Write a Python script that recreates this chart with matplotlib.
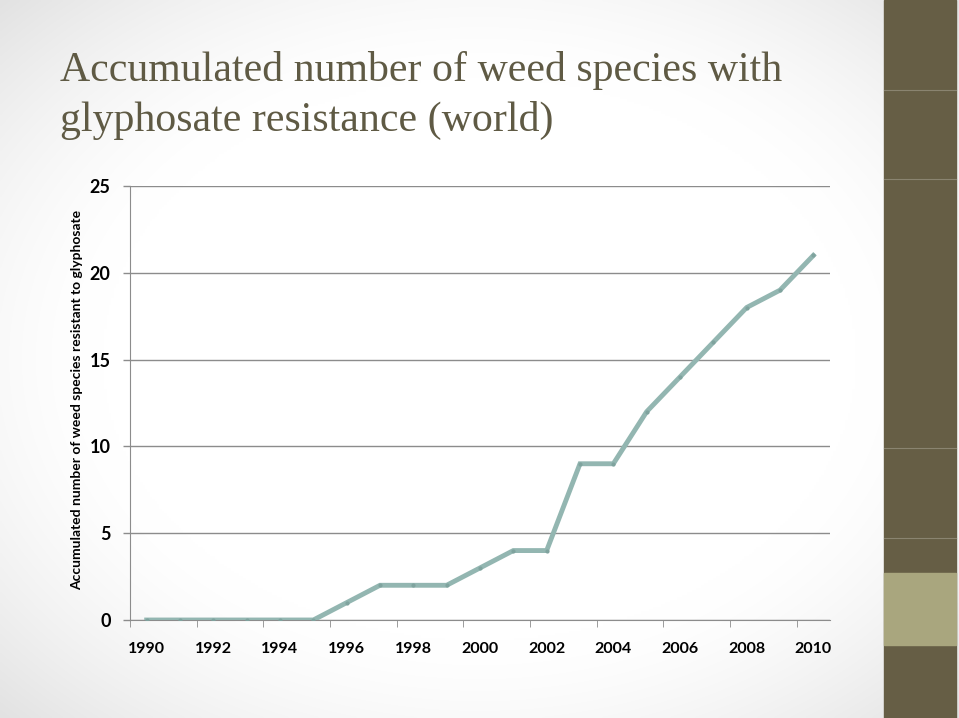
import numpy as np
import matplotlib
matplotlib.use("Agg")
import matplotlib.pyplot as plt
from matplotlib.patches import Rectangle

years = list(range(1990, 2011))
counts = [0, 0, 0, 0, 0, 0, 1, 2, 2, 2, 3, 4, 4, 9, 9, 12, 14, 16, 18, 19, 21]
tick_labels = [str(y) for y in years[::2]]
y_ticks = [0, 5, 10, 15, 20, 25]

title_lines = ["Accumulated number of weed species with",
               "glyphosate resistance (world)"]
ylabel = "Accumulated number of weed species resistant to glyphosate"

W, H = 959, 718
fig = plt.figure(figsize=(W / 100, H / 100), dpi=100)

# background vignette
bg = fig.add_axes([0, 0, 1, 1], zorder=0)
xx, yy = np.meshgrid(np.linspace(-1, 1, 400), np.linspace(-1, 1, 300))
r = np.sqrt((xx * 0.95) ** 2 + (yy * 0.95) ** 2)
shade = 1 - 0.13 * np.clip((r - 0.75) / 0.65, 0, 1) ** 1.5
img = np.dstack([shade, shade, shade])
bg.imshow(img, extent=[0, W, 0, H], aspect="auto", interpolation="bilinear")
bg.set_xlim(0, W)
bg.set_ylim(0, H)
bg.axis("off")

# right band
dark = "#665e45"
tan = "#a9a67e"
bg.add_patch(Rectangle((884, H - 718), 72, 718, color=dark, zorder=2))
bg.add_patch(Rectangle((884, H - 645), 72, 72, color=tan, zorder=3))
for yl in [90, 179, 448, 538]:
    bg.plot([884, 956], [H - yl, H - yl], color="#8a8470", lw=0.8, zorder=4)

# title
for line, base in zip(title_lines, [81, 131]):
    fig.text(60 / W, 1 - base / H, line, ha="left", va="baseline", color="#5f5a44",
             family="Liberation Serif", fontsize=30.2)

# chart
ax = fig.add_axes([130 / W, 1 - 620 / H, 700 / W, 434 / H], zorder=1)
ax.patch.set_alpha(0)
x = np.arange(len(years))
ax.plot(x, counts, color="#93b6b1", lw=3.5, solid_joinstyle="miter", zorder=3)
ax.plot(x, counts, ls="none", marker="o", ms=2, color="#7fa39e", zorder=4)
ax.set_xlim(-0.5, len(years) - 0.5)
ax.set_ylim(0, 25)
ax.set_yticks(y_ticks)
ax.yaxis.grid(True, color="#8c8c8c", lw=1)
ax.set_axisbelow(True)
ax.set_xticks(x[::2])
ax.set_xticklabels(tick_labels)
ax.set_xticks(np.arange(-0.5, len(years), 2), minor=True)
ax.tick_params(axis="x", which="major", length=0, pad=16)
ax.tick_params(axis="x", which="minor", length=5, color="#8c8c8c", direction="out")
ax.tick_params(axis="y", length=5, width=1, color="#8c8c8c", direction="out", pad=9)
for lab in ax.get_xticklabels():
    lab.set_fontfamily("Lato")
    lab.set_fontweight("bold")
    lab.set_fontsize(11.5)
for lab in ax.get_yticklabels():
    lab.set_fontfamily("Lato")
    lab.set_fontweight("bold")
    lab.set_fontsize(13)
for s in ["top", "right"]:
    ax.spines[s].set_visible(False)
ax.spines["left"].set_color("#8c8c8c")
ax.spines["bottom"].set_color("#8c8c8c")

fig.text(77 / W, 1 - 400 / H, ylabel, rotation=90, ha="center", va="center",
         family="Lato", fontweight="bold", fontsize=10)

fig.savefig("out.png", dpi=100)
